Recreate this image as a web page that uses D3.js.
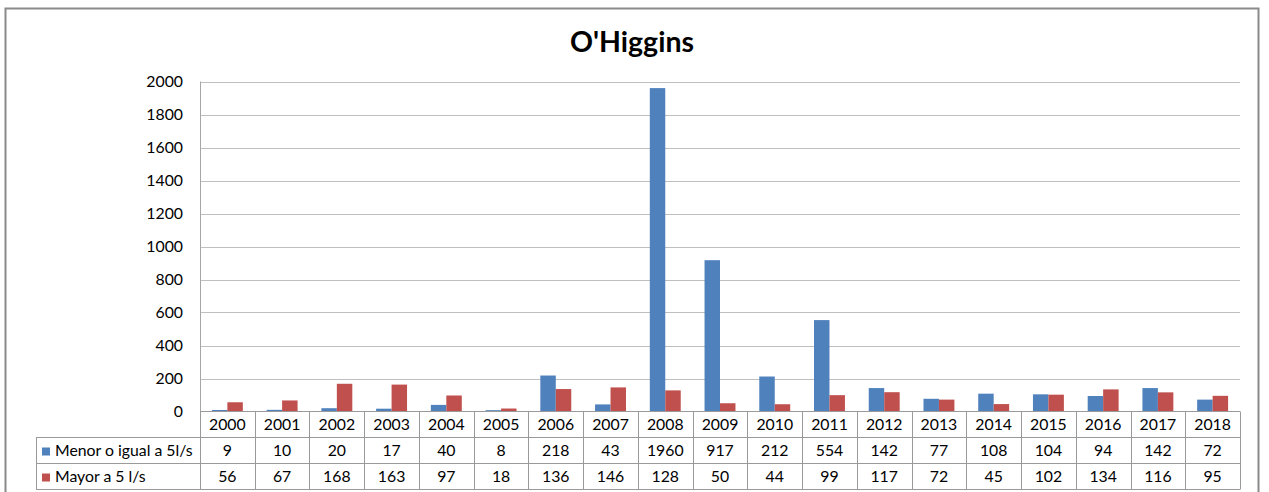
<!DOCTYPE html>
<html>
<head>
<meta charset="utf-8">
<script src="https://cdn.jsdelivr.net/npm/d3@7"></script>
<style>
  html, body { margin: 0; padding: 0; background: #fff; }
  svg { display: block; }
  text { font-family: Lato, "Open Sans", sans-serif; fill: #000; }
</style>
</head>
<body>
<svg id="chart" width="1269" height="492"></svg>
<script>
// Yearly counts for the O'Higgins region
const years = ["2000","2001","2002","2003","2004","2005","2006","2007","2008","2009",
               "2010","2011","2012","2013","2014","2015","2016","2017","2018"];
const seriesNames = ["Menor o igual a 5l/s", "Mayor a 5 l/s"];
const menor = [9, 10, 20, 17, 40, 8, 218, 43, 1960, 917, 212, 554, 142, 77, 108, 104, 94, 142, 72];
const mayor = [56, 67, 168, 163, 97, 18, 136, 146, 128, 50, 44, 99, 117, 72, 45, 102, 134, 116, 95];
const yTicks = [0, 200, 400, 600, 800, 1000, 1200, 1400, 1600, 1800, 2000];
const colors = ["#4F81BD", "#C0504D"];
const series = [menor, mayor];

const svg = d3.select("#chart");
const fontSize = "15.8px";

// chart frame
svg.append("rect")
  .attr("x", 5.5).attr("y", 8.5)
  .attr("width", 1253).attr("height", 495)
  .attr("fill", "#fff")
  .attr("stroke", "#8a8a8a").attr("stroke-width", 2);

const plot = { left: 200, right: 1240, top: 81.5, bottom: 411.5 };
const rowH = 26;
const tableLeft = 36;

const x0 = d3.scaleBand().domain(years).range([plot.left, plot.right]).paddingInner(0).paddingOuter(0);
const x1 = d3.scaleBand().domain(d3.range(series.length))
  .range([0, x0.bandwidth()]).paddingInner(0).paddingOuter(0.77);
const y = d3.scaleLinear().domain([0, 2000]).range([plot.bottom, plot.top]);

// title
svg.append("text")
  .attr("x", 632).attr("y", 52)
  .attr("text-anchor", "middle")
  .style("font-size", "28.5px").style("font-weight", "bold")
  .text("O'Higgins");

// gridlines and y axis labels
const yAxis = d3.axisLeft(y).tickValues(yTicks).tickFormat(d3.format("d")).tickSize(0).tickPadding(17);
const gy = svg.append("g").attr("transform", `translate(${plot.left},0)`).call(yAxis);
gy.select(".domain").remove();
gy.selectAll("text").style("font-size", fontSize).style("font-family", "Lato, sans-serif").attr("fill", "#000");

svg.append("g").selectAll("line").data(yTicks.filter(d => d > 0)).join("line")
  .attr("x1", plot.left).attr("x2", plot.right)
  .attr("y1", d => Math.round(y(d)) + 0.5).attr("y2", d => Math.round(y(d)) + 0.5)
  .attr("stroke", "#bfbfbf").attr("stroke-width", 1.2);

// vertical axis line
svg.append("line")
  .attr("x1", plot.left + 0.5).attr("x2", plot.left + 0.5)
  .attr("y1", plot.top).attr("y2", plot.bottom)
  .attr("stroke", "#a6a6a6");

// bars
years.forEach((yr, i) => {
  const g = svg.append("g").attr("transform", `translate(${x0(yr)},0)`);
  series.forEach((vals, s) => {
    g.append("rect")
      .attr("x", x1(s)).attr("width", x1.bandwidth())
      .attr("y", y(vals[i])).attr("height", y(0) - y(vals[i]))
      .attr("fill", colors[s]);
  });
});

// data table
const tbl = svg.append("g");
const lineColor = "#9a9a9a";
tbl.append("line").attr("x1", plot.left).attr("x2", plot.right)
  .attr("y1", plot.bottom).attr("y2", plot.bottom).attr("stroke", lineColor);
[1, 2, 3].forEach(r => {
  tbl.append("line").attr("x1", tableLeft).attr("x2", plot.right)
    .attr("y1", plot.bottom + r * rowH).attr("y2", plot.bottom + r * rowH)
    .attr("stroke", lineColor);
});
// left edge of the legend column
tbl.append("line").attr("x1", tableLeft + 0.5).attr("x2", tableLeft + 0.5)
  .attr("y1", plot.bottom + rowH).attr("y2", plot.bottom + 3 * rowH).attr("stroke", lineColor);
// column separators
years.forEach(yr => {
  tbl.append("line").attr("x1", Math.round(x0(yr)) + 0.5).attr("x2", Math.round(x0(yr)) + 0.5)
    .attr("y1", plot.bottom).attr("y2", plot.bottom + 3 * rowH).attr("stroke", lineColor);
});
tbl.append("line").attr("x1", plot.right + 0.5).attr("x2", plot.right + 0.5)
  .attr("y1", plot.bottom).attr("y2", plot.bottom + 3 * rowH).attr("stroke", lineColor);

// year labels
tbl.selectAll("text.yr").data(years).join("text")
  .attr("class", "yr")
  .attr("x", d => x0(d) + x0.bandwidth() / 2)
  .attr("y", plot.bottom + rowH / 2 + 5.5)
  .attr("text-anchor", "middle")
  .style("font-size", fontSize)
  .text(d => d);

// series rows
series.forEach((vals, s) => {
  const rowY = plot.bottom + (s + 1) * rowH;
  tbl.append("rect")
    .attr("x", 42).attr("y", rowY + 10).attr("width", 8).attr("height", 8)
    .attr("fill", colors[s]);
  tbl.append("text")
    .attr("x", 55).attr("y", rowY + rowH / 2 + 5.5)
    .style("font-size", fontSize)
    .text(seriesNames[s]);
  tbl.selectAll(null).data(vals).join("text")
    .attr("x", (d, i) => x0(years[i]) + x0.bandwidth() / 2)
    .attr("y", rowY + rowH / 2 + 5.5)
    .attr("text-anchor", "middle")
    .style("font-size", fontSize)
    .text(d => d);
});
</script>
</body>
</html>
